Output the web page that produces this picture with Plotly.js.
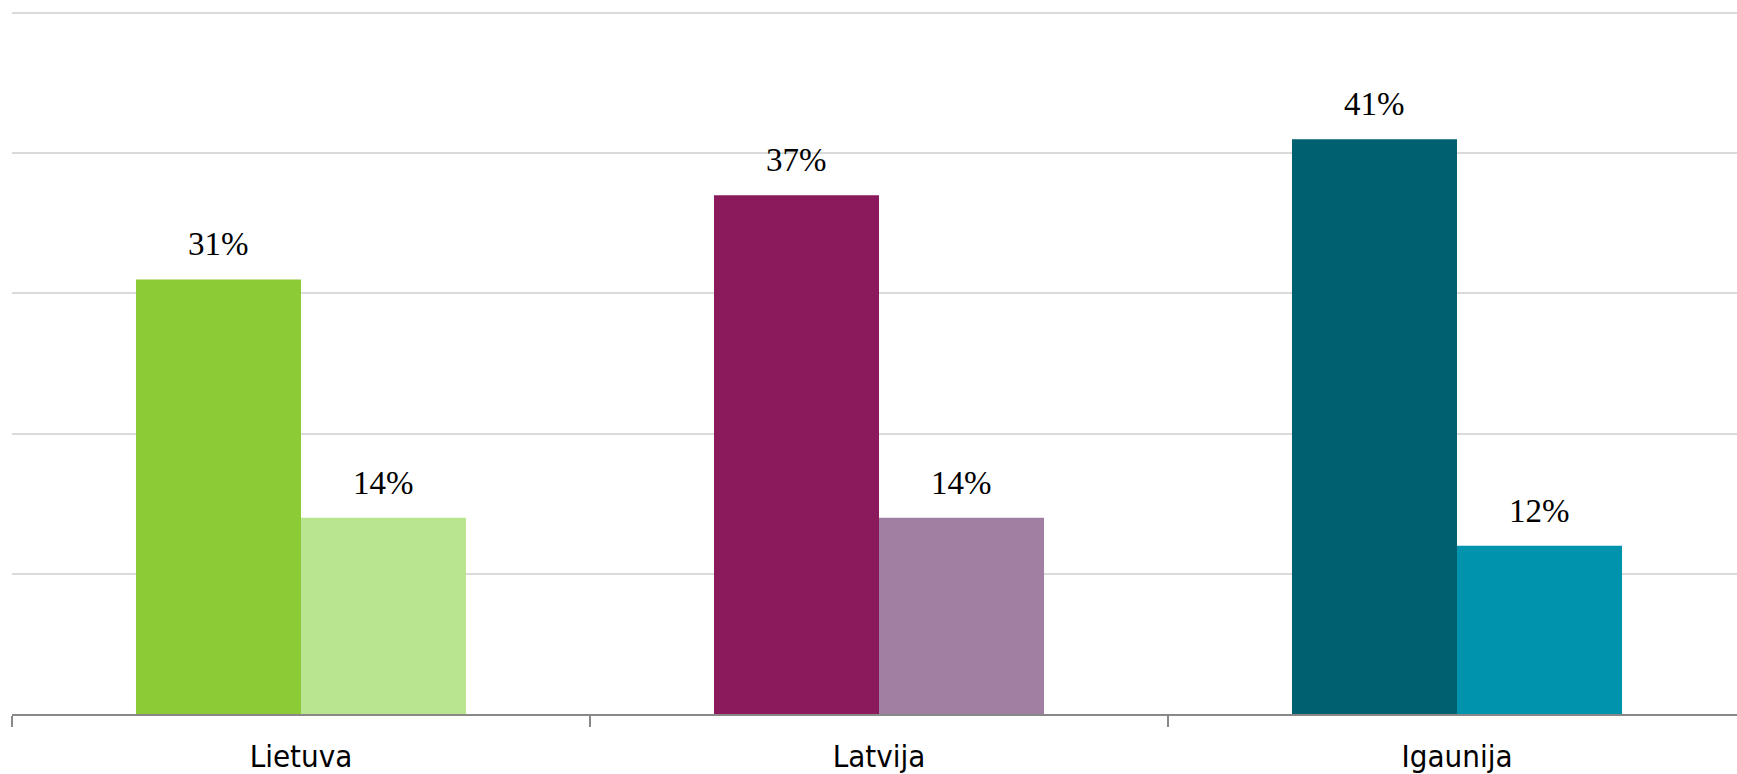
<!DOCTYPE html>
<html>
<head>
<meta charset="utf-8">
<script src="https://cdn.plot.ly/plotly-3.0.1.min.js"></script>
<style>
html,body{margin:0;padding:0;background:#fff;}
#chart{width:1737px;height:774px;}
#chart .xtick text{font-stretch:condensed;}
</style>
</head>
<body>
<div id="chart"></div>
<script>
const categories = ["Lietuva", "Latvija", "Igaunija"];
const seriesA = [31, 37, 41];
const seriesB = [14, 14, 12];
const colorsA = ["#8CCA36", "#8A1A5C", "#006070"];
const colorsB = ["#B9E590", "#A07FA2", "#0093AD"];

const groupWidth = 1 - 0.429;
const half = groupWidth / 4;

const traces = [
  {type: "bar", x: categories, y: seriesA, marker: {color: colorsA}, hoverinfo: "none", showlegend: false},
  {type: "bar", x: categories, y: seriesB, marker: {color: colorsB}, hoverinfo: "none", showlegend: false}
];

const annotations = [];
categories.forEach((c, i) => {
  annotations.push({x: i - half, y: seriesA[i], xref: "x", yref: "y", text: seriesA[i] + "%", showarrow: false,
    yanchor: "bottom", yshift: 15, font: {family: "Liberation Serif, serif", size: 33, color: "#000"}});
  annotations.push({x: i + half, y: seriesB[i], xref: "x", yref: "y", text: seriesB[i] + "%", showarrow: false,
    yanchor: "bottom", yshift: 15, font: {family: "Liberation Serif, serif", size: 33, color: "#000"}});
});

const layout = {
  width: 1737, height: 774,
  margin: {l: 12, r: 0, t: 11, b: 60},
  paper_bgcolor: "#fff", plot_bgcolor: "#fff",
  barmode: "group", bargap: 0.429, bargroupgap: 0,
  xaxis: {
    type: "category", range: [-0.5, 2.4844],
    showline: true, linecolor: "#888", linewidth: 2,
    ticks: "outside", tickson: "boundaries", ticklen: 11, tickwidth: 2, tickcolor: "#888",
    ticklabelstandoff: 14,
    showgrid: false,
    tickfont: {family: "DejaVu Sans Condensed, DejaVu Sans, sans-serif", size: 31, color: "#000"}
  },
  yaxis: {
    range: [0, 50.15], tickvals: [10, 20, 30, 40, 50], showticklabels: false,
    showgrid: true, gridcolor: "#dadada", gridwidth: 2,
    zeroline: false, showline: false, ticks: ""
  },
  annotations: annotations
};

Plotly.newPlot("chart", traces, layout, {displayModeBar: false, staticPlot: true});
</script>
</body>
</html>
